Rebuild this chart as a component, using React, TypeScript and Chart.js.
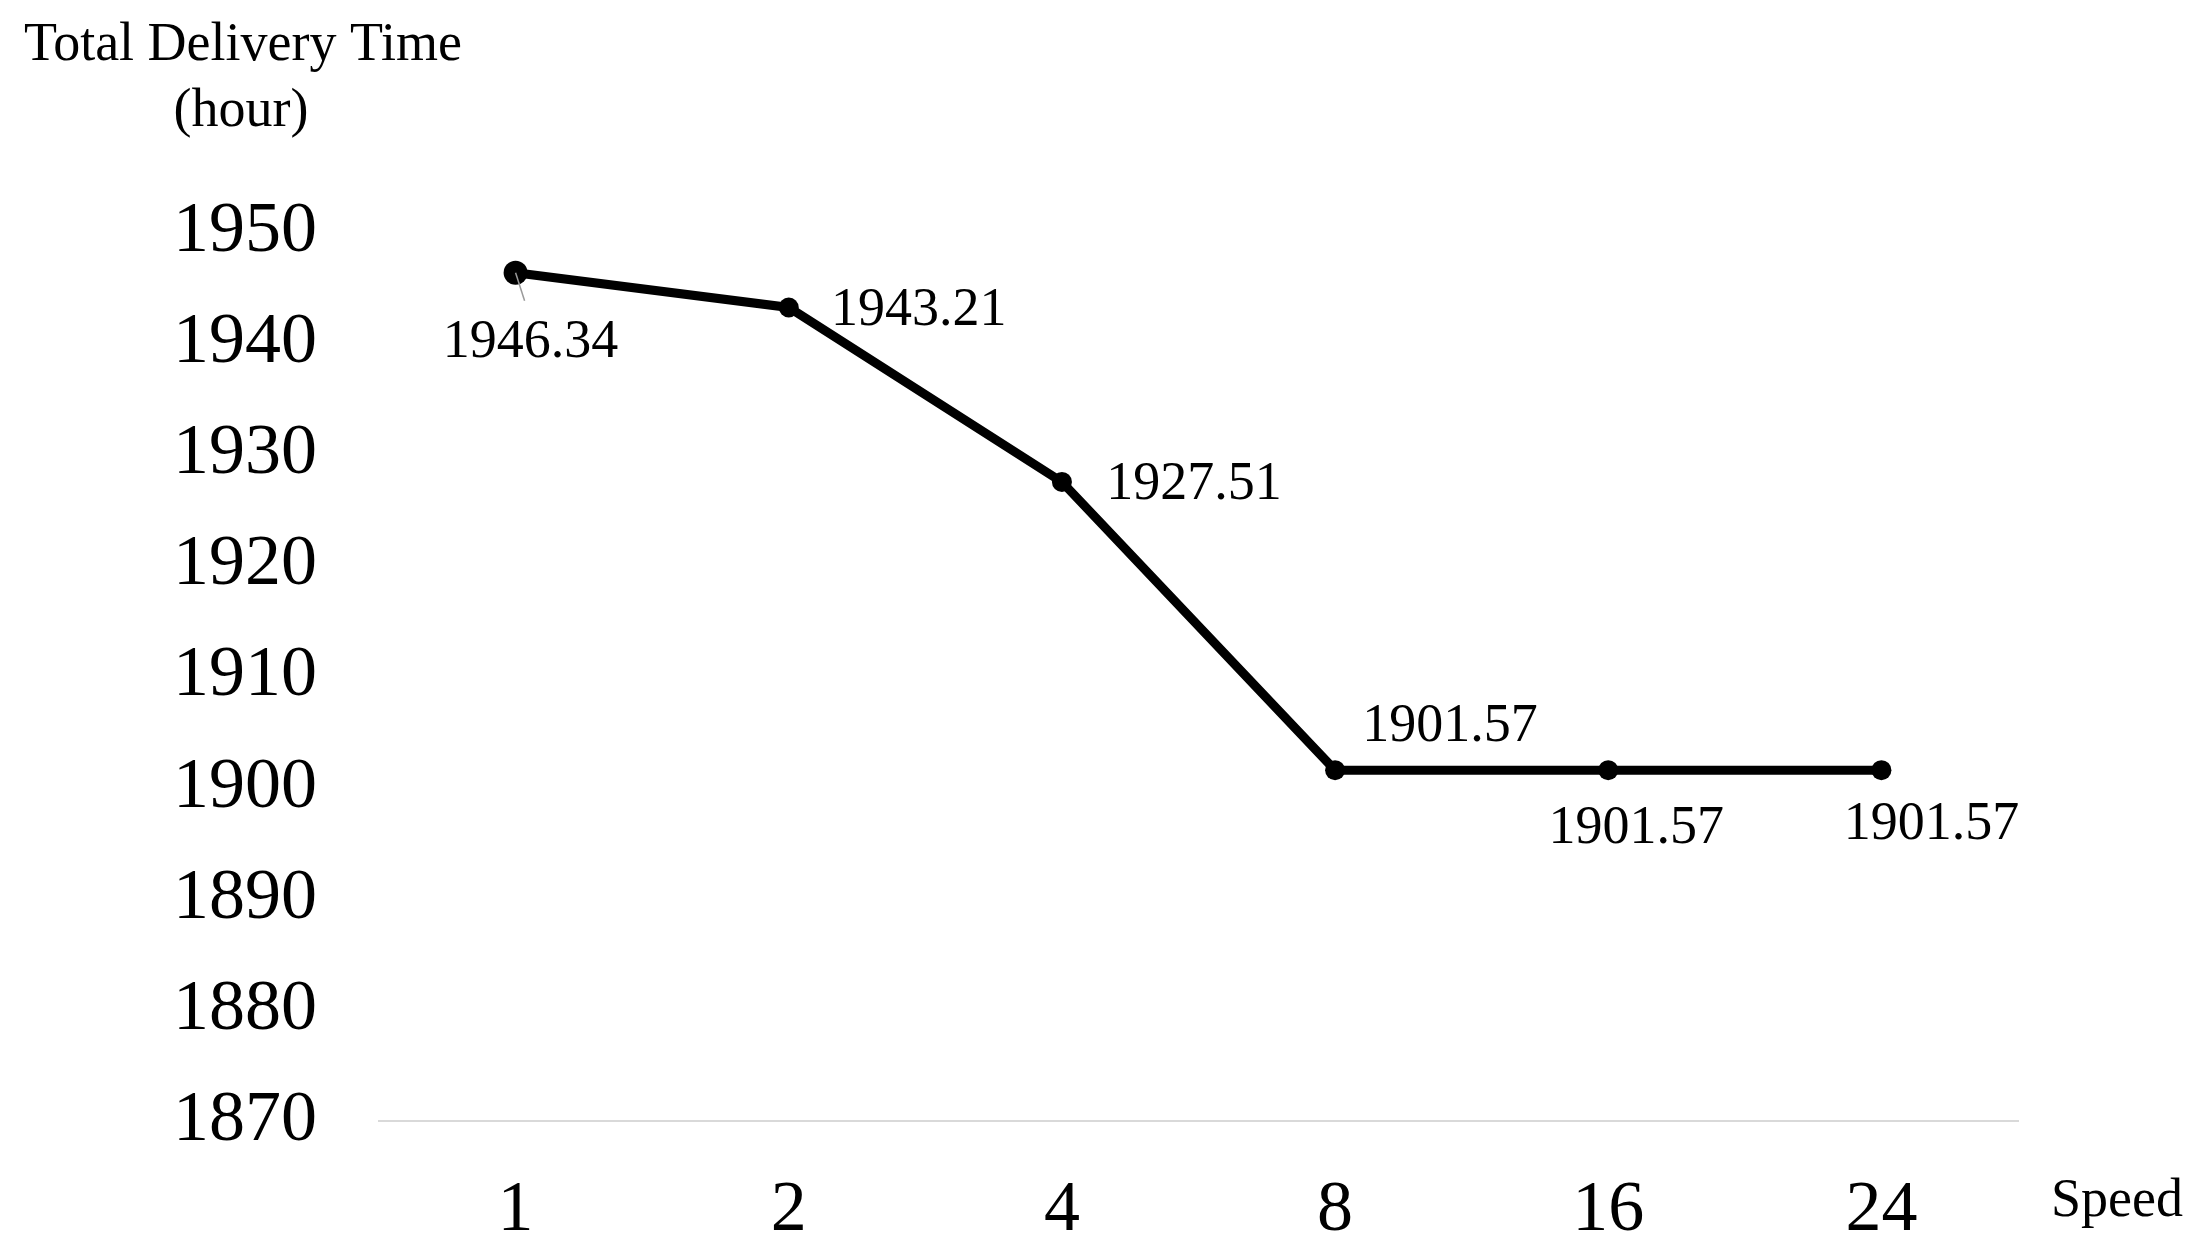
import React, { useEffect, useRef } from "react";
import { Chart, registerables } from "chart.js";

Chart.register(...registerables);

const categories = ["1", "2", "4", "8", "16", "24"];
const totalDeliveryTime = [1946.34, 1943.21, 1927.51, 1901.57, 1901.57, 1901.57];
const valueLabels = ["1946.34", "1943.21", "1927.51", "1901.57", "1901.57", "1901.57"];
const yMin = 1870;
const yMax = 1950;
const yStep = 10;
const yTitleLines = ["Total Delivery Time", "(hour)"];
const xTitle = "Speed";

// label placement relative to each point (center of text), px
const labelOffsets = [
  [15, 70],
  [130, 3],
  [132, 3],
  [115, -43],
  [28, 59],
  [50, 55],
];

const FONT = "'Liberation Serif', 'Times New Roman', serif";

const annotationPlugin = {
  id: "annotations",
  afterDatasetsDraw(chart: any) {
    const ctx = chart.ctx;
    const meta = chart.getDatasetMeta(0);
    ctx.save();
    // leader line for first label
    const p0 = meta.data[0];
    if (p0) {
      ctx.strokeStyle = "#9a9a9a";
      ctx.lineWidth = 1.5;
      ctx.beginPath();
      ctx.moveTo(p0.x, p0.y);
      ctx.lineTo(p0.x + 9, p0.y + 28);
      ctx.stroke();
    }
    ctx.fillStyle = "#000";
    ctx.font = `54px ${FONT}`;
    ctx.textAlign = "center";
    ctx.textBaseline = "middle";
    meta.data.forEach((pt: any, i: number) => {
      const [dx, dy] = labelOffsets[i];
      ctx.fillText(valueLabels[i], pt.x + dx, pt.y + dy);
    });
    // axis titles
    ctx.font = `54px ${FONT}`;
    ctx.fillText(yTitleLines[0], 243, 46);
    ctx.fillText(yTitleLines[1], 241, 112);
    ctx.fillText(xTitle, 2117, 1202);
    ctx.restore();
  },
};

export default function App() {
  const canvasRef = useRef<HTMLCanvasElement | null>(null);

  useEffect(() => {
    document.body.style.margin = "0";
    const canvas = canvasRef.current;
    if (!canvas) return;
    const chart = new Chart(canvas, {
      type: "line",
      data: {
        labels: categories,
        datasets: [
          {
            data: totalDeliveryTime,
            borderColor: "#000",
            backgroundColor: "#000",
            borderWidth: 9,
            pointRadius: [12, 10, 10, 10, 10, 10],
            pointBackgroundColor: "#000",
            pointBorderColor: "#000",
            pointBorderWidth: 0,
            tension: 0,
            fill: false,
          },
        ],
      },
      options: {
        responsive: false,
        animation: false,
        layout: { padding: { left: 0, right: 182, top: 232, bottom: 0 } },
        plugins: {
          legend: { display: false },
          tooltip: { enabled: false },
          title: { display: false },
        },
        scales: {
          x: {
            offset: true,
            grid: { display: false, drawTicks: false },
            border: { display: true, color: "#d9d9d9", width: 2 },
            ticks: {
              color: "#000",
              font: { family: FONT, size: 72 },
              padding: 47,
              maxRotation: 0,
            },
            afterFit(scale: any) {
              scale.height = 1260 - 1121;
            },
          },
          y: {
            min: yMin,
            max: yMax,
            grid: { display: false, drawTicks: false },
            border: { display: false },
            ticks: {
              stepSize: yStep,
              color: "#000",
              font: { family: FONT, size: 72 },
              padding: 62,
              callback: (v: any) => String(v),
            },
            afterFit(scale: any) {
              scale.width = 379;
            },
          },
        },
      },
      plugins: [annotationPlugin],
    });
    return () => chart.destroy();
  }, []);

  return (
    <div style={{ position: "absolute", left: 0, top: 0, width: 2200, height: 1260, background: "#fff" }}>
      <canvas ref={canvasRef} width={2200} height={1260} style={{ width: 2200, height: 1260, display: "block" }} />
    </div>
  );
}
